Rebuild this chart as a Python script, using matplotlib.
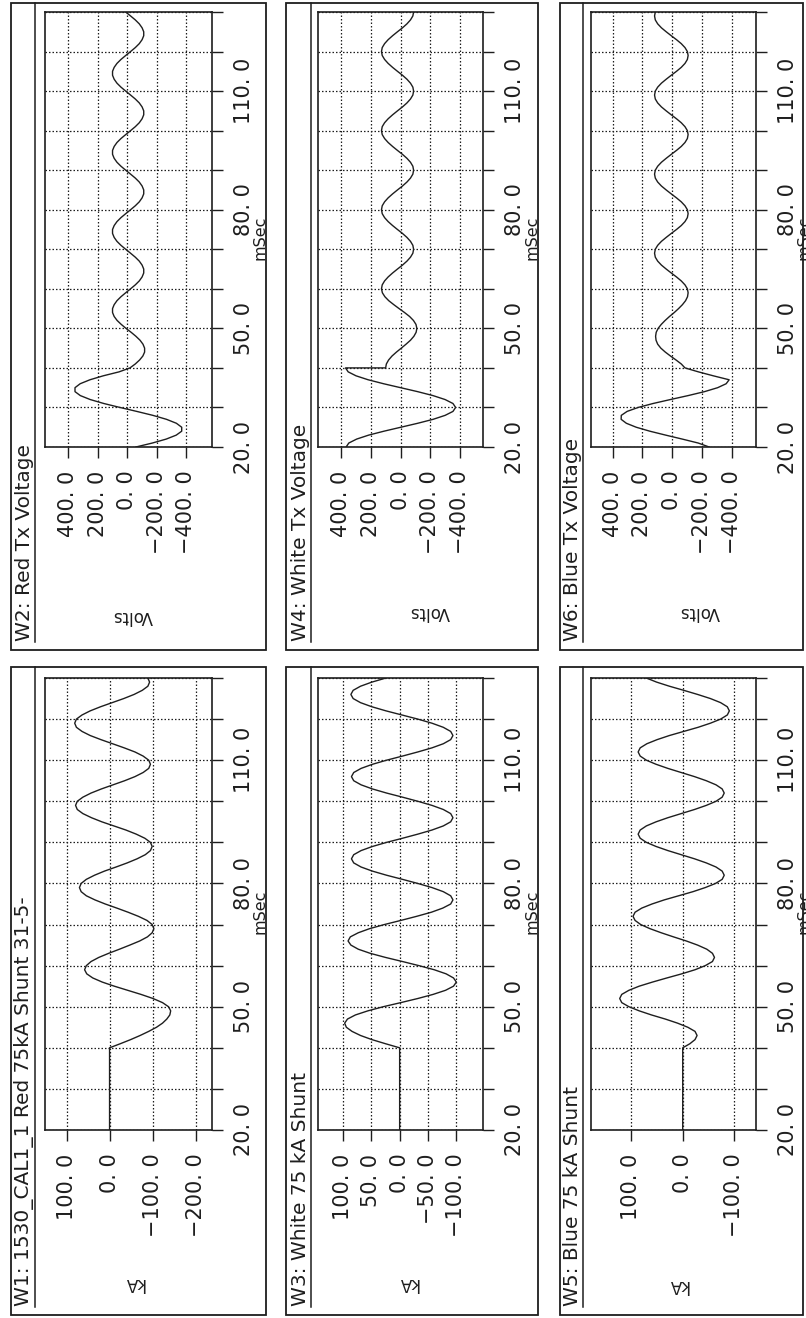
import numpy as np
import matplotlib
matplotlib.use("Agg")
import matplotlib.pyplot as plt
from matplotlib.lines import Line2D
from matplotlib.patches import Rectangle
from matplotlib.transforms import blended_transform_factory, ScaledTranslation

# page is laid out sideways: time runs up the page, amplitude runs right-to-left
W, H = 806, 1318
INK = '#1e1e1e'

# sample times in msec
t_full = np.arange(20, 131)
t_curr = np.r_[20, np.arange(40, 131)]
t_w4 = np.r_[np.arange(20, 41), np.arange(40, 131)]

# W1: Red 75kA shunt current (kA)
w1_ka = [0, 0,
         -25, -49, -71, -91, -109, -123, -133, -140, -142,
         -137, -123, -101, -73, -42, -11, 17, 39, 53, 58,
         54, 43, 25, 2, -23, -47, -70, -88, -99, -103,
         -99, -87, -67, -43, -17, 10, 34, 54, 66, 70,
         66, 54, 35, 12, -15, -41, -64, -83, -95, -99,
         -95, -82, -62, -38, -10, 18, 42, 62, 75, 79,
         75, 62, 43, 19, -8, -35, -59, -78, -91, -95,
         -91, -78, -59, -34, -7, 20, 45, 64, 77, 81,
         77, 64, 45, 21, -6, -33, -57, -76, -89, -93,
         -89]

# W3: White 75 kA shunt current (kA)
w3_ka = [0, 0,
         25, 49, 69, 84, 94, 97,
         92, 78, 56, 29, -2, -32, -59, -81, -95, -100,
         -95, -82, -61, -34, -5, 25, 52, 73, 86, 91,
         87, 73, 53, 27, -2, -30, -56, -76, -90, -94,
         -90, -77, -57, -32, -5, 23, 48, 68, 81, 85,
         81, 68, 48, 23, -5, -32, -57, -77, -90, -94,
         -90, -77, -57, -32, -5, 23, 48, 68, 81, 85,
         81, 68, 48, 23, -5, -32, -57, -77, -90, -94,
         -90, -77, -57, -32, -4, 24, 49, 69, 82, 86,
         82, 69, 49, 24]

# W5: Blue 75 kA shunt current (kA)
w5_ka = [0, 0,
         -14, -24, -28,
         -24, -10, 10, 34, 61, 85, 105, 119, 123,
         119, 105, 85, 59, 31, 2, -24, -44, -58, -62,
         -58, -47, -29, -7, 18, 42, 64, 82, 93, 97,
         93, 80, 60, 36, 8, -20, -44, -64, -77, -81,
         -77, -65, -46, -23, 3, 29, 52, 71, 83, 87,
         83, 71, 52, 29, 3, -23, -46, -65, -77, -81,
         -77, -65, -46, -23, 3, 29, 52, 71, 83, 87,
         83, 70, 50, 26, -2, -30, -54, -74, -87, -91,
         -87, -74, -54, -29, -2, 26, 51, 71]

# W2: Red Tx voltage (V)
w2_v = [-58, -169, -263, -331, -368, -368, -332, -265, -173, -64,
        50, 159, 251, 318, 354, 354, 319, 253, 163, 56,
        -18, -54, -83, -105, -117, -117, -106, -86, -58, -26,
        9, 41, 69, 89, 100, 100, 89, 70, 43, 11,
        -22, -54, -81, -100, -111, -111, -100, -81, -54, -22,
        11, 43, 70, 89, 100, 100, 89, 70, 43, 11,
        -22, -54, -81, -100, -111, -111, -100, -81, -54, -22,
        11, 43, 70, 89, 100, 100, 89, 70, 43, 11,
        -22, -54, -81, -100, -111, -111, -100, -81, -54, -22,
        11, 43, 70, 89, 100, 100, 89, 70, 43, 11,
        -22, -54, -81, -100, -111, -111, -100, -81, -54, -22,
        11]

# W4: White Tx voltage (V), steps down at 40 msec
w4_v = [368, 350, 297, 216, 112, -2, -116, -220, -301, -354,
        -372, -354, -301, -219, -115, 0, 115, 219, 301, 354,
        372, 101,
        96, 81, 58, 28, -5, -37, -67, -90, -105, -110,
        -104, -87, -61, -27, 10, 46, 80, 106, 123, 129,
        124, 108, 84, 54, 21, -13, -43, -67, -83, -88,
        -83, -67, -43, -13, 21, 54, 84, 108, 124, 129,
        124, 108, 84, 54, 21, -13, -43, -67, -83, -88,
        -83, -67, -43, -13, 21, 54, 84, 108, 124, 129,
        124, 108, 84, 54, 21, -13, -43, -67, -83, -88,
        -83, -67, -43, -13, 21, 54, 84, 108, 124, 129,
        124, 108, 84, 54, 21, -13, -43, -67, -83, -88]

# W6: Blue Tx voltage (V)
w6_v = [-247, -174, -67, 44, 151, 242, 308, 343, 342, 303,
        229, 129, 13, -106, -216, -304, -361, -381, -275, -175,
        -85,
        -60, -25, 12, 47, 77, 98, 109, 112,
        108, 95, 74, 48, 19, -13, -42, -68, -89, -102, -106,
        -101, -85, -60, -28, 7, 41, 73, 98, 114, 119,
        114, 98, 73, 41, 7, -28, -60, -85, -101, -106,
        -101, -85, -60, -28, 7, 41, 73, 98, 114, 119,
        114, 98, 73, 41, 7, -28, -60, -85, -101, -106,
        -101, -85, -60, -28, 7, 41, 73, 98, 114, 119,
        114, 98, 73, 41, 7, -28, -60, -85, -101, -106,
        -101, -85, -60, -28, 7, 41, 73, 98, 114, 119,
        114]

time_ticks = np.arange(20, 131, 10)
time_labelled = [20, 50, 80, 110]

volt_ticks = [400, 200, 0, -200, -400]
w1_ticks = [100, 0, -100, -200]
w3_ticks = [100, 50, 0, -50, -100]
w5_ticks = [100, 0, -100]

panels = [
    # col, row, title, unit, time, values, amplitude limits, ticks
    (0, 0, 'W1: 1530_CAL1_1 Red 75kA Shunt 31-5-', 'kA', t_curr, w1_ka, (150, -238), w1_ticks),
    (0, 1, 'W2: Red Tx Voltage', 'Volts', t_full, w2_v, (557, -573), volt_ticks),
    (1, 0, 'W3: White 75 kA Shunt', 'kA', t_curr, w3_ka, (144, -147), w3_ticks),
    (1, 1, 'W4: White Tx Voltage', 'Volts', t_w4, w4_v, (558, -557), volt_ticks),
    (2, 0, 'W5: Blue 75 kA Shunt', 'kA', t_curr, w5_ka, (179, -143), w5_ticks),
    (2, 1, 'W6: Blue Tx Voltage', 'Volts', t_full, w6_v, (545, -561), volt_ticks),
]

# page geometry in pixels (x right, y down)
plot_x = [(45, 212), (318, 483), (591, 756)]
plot_y = {0: (678, 1130), 1: (12, 447)}
frame_x = [(11, 266), (286, 538), (560, 803)]
frame_y = {0: (667, 1315), 1: (3, 650)}
rule_x = [35, 311, 583]
unit_pos = {(0, 0): (134, 1283), (0, 1): (133, 616), (1, 0): (408, 1283),
            (1, 1): (430, 612), (2, 0): (678, 1285), (2, 1): (700, 612)}


def fx(px):
    return px / W


def fy(py):
    return 1 - py / H


def fmt(v):
    return f"{v:.1f}".replace('.', '. ').replace('-', '\u2212')


plt.rcParams['font.family'] = ['DejaVu Sans']
fig = plt.figure(figsize=(W / 100, H / 100), dpi=100)
fig.patch.set_facecolor('white')

for col, row, title, unit, t, vals, lims, ticks in panels:
    x0, x1 = plot_x[col]
    y0, y1 = plot_y[row]
    ax = fig.add_axes([fx(x0), fy(y1), fx(x1) - fx(x0), fy(y0) - fy(y1)])

    ax.plot(vals, t, color=INK, lw=1.0, solid_joinstyle='round')
    ax.set_xlim(*lims)
    ax.set_ylim(20, 130)

    ax.set_xticks(ticks)
    ax.set_xticklabels([fmt(v) for v in ticks])
    ax.set_yticks(time_ticks)
    ax.set_yticklabels([fmt(v) if v in time_labelled else '' for v in time_ticks])
    ax.yaxis.tick_right()
    ax.tick_params(axis='both', direction='out', length=8, width=1.0, color=INK,
                   labelcolor=INK, labelsize=15)
    ax.tick_params(axis='x', labelrotation=90, pad=9)
    ax.tick_params(axis='y', labelrotation=90, pad=8)
    for lab in ax.get_yticklabels():
        lab.set_verticalalignment('center')

    ax.grid(True, color=INK, lw=0.9, ls=(0, (1.2, 1.6)))
    for sp in ax.spines.values():
        sp.set_color(INK)
        sp.set_linewidth(1.2)

    # time unit under the 80 msec label
    trans = blended_transform_factory(ax.transAxes, ax.transData) + \
        ScaledTranslation(41 / 100, 0, fig.dpi_scale_trans)
    ax.text(1.0, 73, 'mSec', transform=trans, rotation=90, ha='left', va='center',
            fontsize=11.5, color=INK)

    # amplitude unit
    ux, uy = unit_pos[(col, row)]
    fig.text(fx(ux), fy(uy), unit, rotation=180, ha='center', va='center',
             fontsize=12, color=INK)

    # panel frame, title and title rule
    fx0, fx1 = frame_x[col]
    fy0, fy1 = frame_y[row]
    fig.add_artist(Rectangle((fx(fx0), fy(fy1)), fx(fx1) - fx(fx0), fy(fy0) - fy(fy1),
                             transform=fig.transFigure, fill=False, ec=INK, lw=1.3))
    fig.add_artist(Line2D([fx(rule_x[col])] * 2, [fy(fy0), fy(fy1 - 8)],
                          transform=fig.transFigure, color=INK, lw=1.1))
    fig.text(fx(rule_x[col] - 5.5), fy(fy1 - 9), title, rotation=90, rotation_mode='anchor',
             ha='left', va='baseline', fontsize=14.5, color=INK)

fig.savefig('out.png', dpi=100, facecolor='white')
